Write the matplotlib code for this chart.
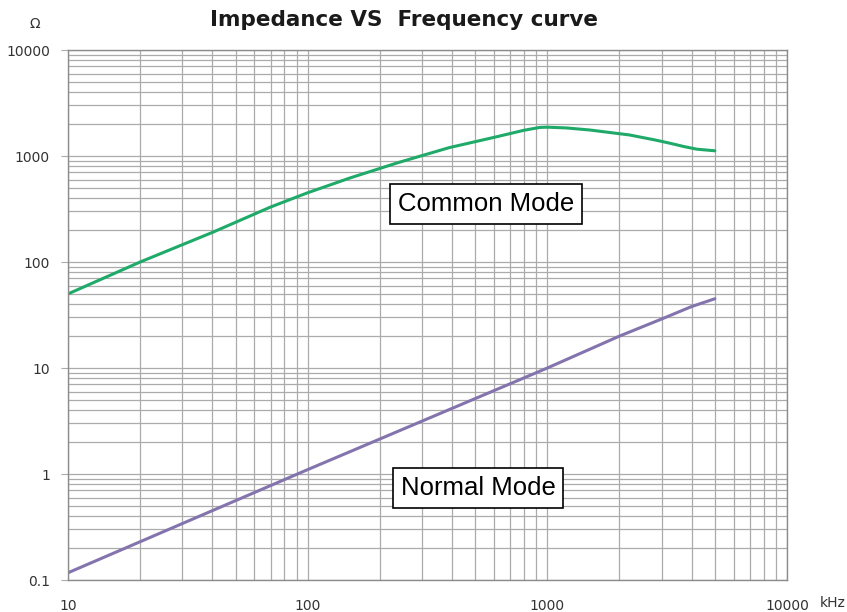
import numpy as np
import matplotlib.pyplot as plt
from matplotlib.ticker import LogLocator, FixedLocator, NullFormatter

# frequency in kHz, impedance in ohm
cm_freq = [10, 20, 40, 70, 100, 150, 240, 390, 600, 800, 930, 1000, 1200,
           1500, 2200, 2800, 3200, 3700, 4200, 5000]
cm_imp = [50, 100, 190, 330, 450, 620, 870, 1200, 1500, 1750, 1860, 1870, 1840,
          1760, 1580, 1420, 1330, 1230, 1160, 1120]

nm_freq = [10, 100, 1000, 2000, 3000, 4000, 5000]
nm_imp = [0.117, 1.1, 10, 20, 29, 38, 45]

x_ticks = [10, 100, 1000, 10000]
y_ticks = [0.1, 1, 10, 100, 1000, 10000]
y_labels = ["0.1", "1", "10", "100", "1000", "10000"]

grid_col = "#ababab"

fig = plt.figure(figsize=(8.47, 6.12), dpi=100)
ax = fig.add_axes([68 / 847, 1 - 580 / 612, (787 - 68) / 847, (580 - 50) / 612])

ax.set_xscale("log")
ax.set_yscale("log")
ax.set_xlim(10, 10000)
ax.set_ylim(0.1, 10000)

ax.plot(cm_freq, cm_imp, color="#1faa6a", lw=2.2, solid_capstyle="round", solid_joinstyle="round")
ax.plot(nm_freq, nm_imp, color="#8374ad", lw=2.2, solid_capstyle="round", solid_joinstyle="round")

# grid, major and minor look the same
ax.xaxis.set_major_locator(FixedLocator(x_ticks))
ax.yaxis.set_major_locator(FixedLocator(y_ticks))
ax.xaxis.set_minor_locator(LogLocator(base=10, subs=np.arange(2, 10)))
ax.yaxis.set_minor_locator(LogLocator(base=10, subs=np.arange(2, 10)))
ax.xaxis.set_minor_formatter(NullFormatter())
ax.yaxis.set_minor_formatter(NullFormatter())
ax.grid(True, which="both", color=grid_col, lw=0.9)
ax.set_axisbelow(True)

ax.set_xticklabels([str(t) for t in x_ticks])
ax.set_yticklabels(y_labels)
ax.tick_params(axis="x", which="both", length=0, pad=14, labelsize=10, labelcolor="#333333")
ax.tick_params(axis="y", which="major", length=5, color=grid_col, pad=8, labelsize=10, labelcolor="#333333")
ax.tick_params(axis="y", which="minor", length=0)

for s in ax.spines.values():
    s.set_color("#8c8c8c")
    s.set_linewidth(1.0)

fig.text(404 / 847, 1 - 20 / 612, "Impedance VS  Frequency curve", ha="center", va="center",
         fontsize=15.5, fontweight="bold", color="#1a1a1a")
fig.text(35 / 847, 1 - 24 / 612, "Ω", ha="center", va="center", fontsize=10, color="#333333")
fig.text(833 / 847, 1 - 603 / 612, "kHz", ha="center", va="center", fontsize=10, color="#333333")

box = dict(boxstyle="square,pad=0.3", fc="white", ec="black", lw=1.2)
ax.text(486 / 847, 1 - 204 / 612, "Common Mode", transform=fig.transFigure, ha="center", va="center",
        fontsize=18.5, family="Liberation Sans", bbox=box)
ax.text(478 / 847, 1 - 488 / 612, "Normal Mode", transform=fig.transFigure, ha="center", va="center",
        fontsize=18.5, family="Liberation Sans", bbox=box)

fig.savefig("out.png", dpi=100)
